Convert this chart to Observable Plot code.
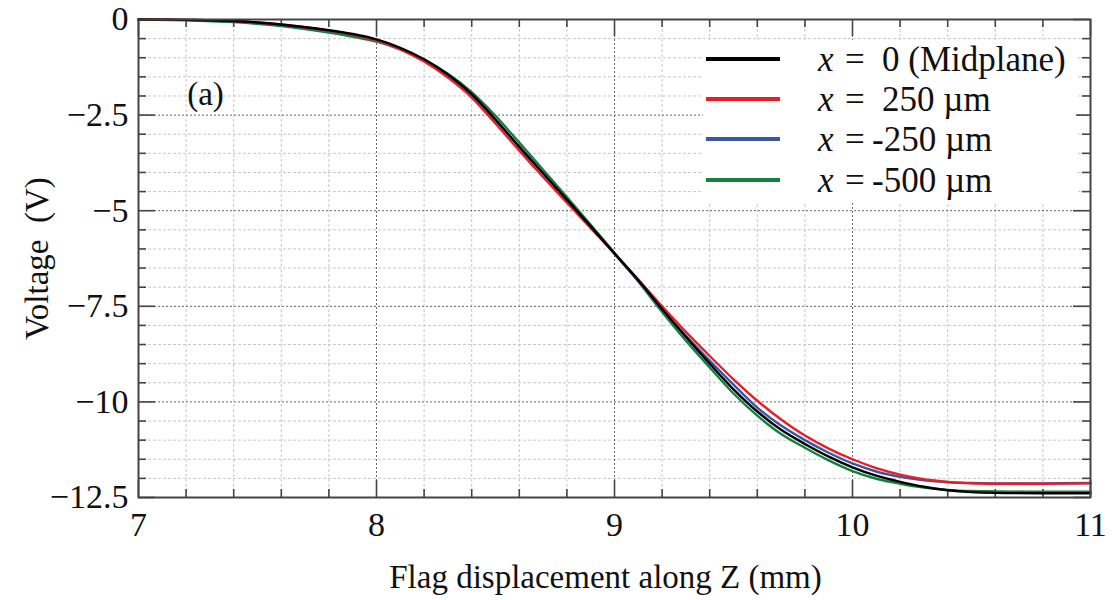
<!DOCTYPE html>
<html>
<head>
<meta charset="utf-8">
<script src="https://cdn.jsdelivr.net/npm/d3@7"></script>
<script src="https://cdn.jsdelivr.net/npm/@observablehq/plot@0.6"></script>
<style>
  html, body { margin: 0; padding: 0; background: #fff; }
</style>
</head>
<body>
<div id="chart"></div>
<script>
// Flag displacement along Z (mm)
const zMm = [7.0, 7.2, 7.4, 7.6, 7.8, 7.9, 8.0, 8.1, 8.2, 8.3, 8.4, 8.5, 8.6, 8.7, 8.8, 8.9, 9.0, 9.1, 9.2, 9.3, 9.4,
  9.5, 9.6, 9.7, 9.8, 9.9, 10.0, 10.1, 10.2, 10.3, 10.4, 10.5, 10.6, 10.8, 11.0];

// Voltage (V) for each position x
const vMid = [0, -0.01, -0.04, -0.13, -0.28, -0.38, -0.52, -0.74, -1.04, -1.44, -1.95, -2.62, -3.33, -4.02, -4.71, -5.41, -6.12, -6.82, -7.57, -8.30, -9.00,
  -9.67, -10.25, -10.73, -11.10, -11.43, -11.71, -11.93, -12.09, -12.22, -12.31, -12.36, -12.38, -12.39, -12.39];
const vP250 = [0, -0.01, -0.04, -0.13, -0.29, -0.40, -0.55, -0.78, -1.10, -1.52, -2.04, -2.72, -3.43, -4.12, -4.79, -5.46, -6.12, -6.80, -7.50, -8.17, -8.80,
  -9.41, -9.97, -10.46, -10.88, -11.22, -11.50, -11.73, -11.90, -12.02, -12.09, -12.13, -12.14, -12.14, -12.13];
const vM250 = [0, -0.01, -0.05, -0.14, -0.30, -0.40, -0.54, -0.76, -1.06, -1.46, -1.97, -2.62, -3.33, -4.02, -4.72, -5.42, -6.13, -6.84, -7.58, -8.27, -8.92,
  -9.55, -10.15, -10.62, -11.00, -11.33, -11.61, -11.82, -11.96, -12.05, -12.10, -12.12, -12.13, -12.13, -12.12];
const vM500 = [0, -0.02, -0.07, -0.17, -0.34, -0.45, -0.58, -0.78, -1.05, -1.42, -1.90, -2.52, -3.22, -3.93, -4.64, -5.37, -6.10, -6.85, -7.65, -8.40, -9.10,
  -9.78, -10.36, -10.84, -11.20, -11.53, -11.81, -12.01, -12.14, -12.24, -12.30, -12.33, -12.34, -12.35, -12.35];

const seriesNames = ["x = 0 (Midplane)", "x = 250 µm", "x = -250 µm", "x = -500 µm"];
const legendValues = ["0 (Midplane)", "250 µm", "-250 µm", "-500 µm"];
const seriesValues = [vMid, vP250, vM250, vM500];
const seriesColors = ["#000000", "#ec1c24", "#3a56a5", "#13803f"];

const xTicks = [7, 8, 9, 10, 11];
const yTicks = [0, -2.5, -5, -7.5, -10, -12.5];

// build table (draw order: green, blue, red, black on top)
const drawOrder = [3, 2, 1, 0];
const table = [];
for (const i of drawOrder) {
  zMm.forEach((z, k) => table.push({z, v: seriesValues[i][k], series: seriesNames[i]}));
}

const W = 1114, H = 600;
const mL = 138, mR = 24, mT = 19, mB = 103;
const innerW = W - mL - mR, innerH = H - mT - mB;
const FONT = "'Liberation Serif', 'Times New Roman', serif";

const minorX = d3.range(7, 11.0001, 0.2).map(d => +d.toFixed(1));
const minorY = d3.range(-12.5, 0.0001, 0.5).map(d => +d.toFixed(1));
const majorGridX = [8, 9, 10];
const majorGridY = [-2.5, -5, -7.5, -10];
const minorGridX = minorX.filter(d => !xTicks.includes(d));
const minorGridY = minorY.filter(d => !yTicks.includes(d));

const gridMinor = {stroke: "#c8c8c8", strokeDasharray: "3,2", strokeWidth: 1};
const gridMajor = {stroke: "#666", strokeDasharray: "2,2", strokeWidth: 1};
const tickStyle = {stroke: "#444", strokeWidth: 1.6};
const majLen = 17, minLen = 8;

const svg = Plot.plot({
  width: W, height: H,
  marginLeft: mL, marginRight: mR, marginTop: mT, marginBottom: mB,
  style: {fontFamily: FONT, fontSize: "34px", color: "#111", background: "#fff"},
  x: {domain: [7, 11], ticks: xTicks, tickSize: 0, tickPadding: 14, label: null, tickFormat: d => String(d)},
  y: {domain: [-12.5, 0], ticks: yTicks, tickSize: 0, tickPadding: 10, label: null,
      tickFormat: d => d === 0 ? "0" : "\u2212" + Math.abs(d)},
  color: {domain: seriesNames, range: seriesColors},
  marks: [
    Plot.ruleX(minorGridX, {x: d => d, ...gridMinor}),
    Plot.ruleY(minorGridY, {y: d => d, ...gridMinor}),
    Plot.ruleX(majorGridX, {x: d => d, ...gridMajor}),
    Plot.ruleY(majorGridY, {y: d => d, ...gridMajor}),
    // inward ticks: bottom & top
    Plot.ruleX(xTicks, {x: d => d, insetTop: innerH - majLen, ...tickStyle}),
    Plot.ruleX(xTicks, {x: d => d, insetBottom: innerH - majLen, ...tickStyle}),
    Plot.ruleX(minorGridX, {x: d => d, insetTop: innerH - minLen, ...tickStyle}),
    Plot.ruleX(minorGridX, {x: d => d, insetBottom: innerH - minLen, ...tickStyle}),
    // inward ticks: left & right
    Plot.ruleY(yTicks, {y: d => d, insetRight: innerW - majLen, ...tickStyle}),
    Plot.ruleY(yTicks, {y: d => d, insetLeft: innerW - majLen, ...tickStyle}),
    Plot.ruleY(minorGridY, {y: d => d, insetRight: innerW - minLen, ...tickStyle}),
    Plot.ruleY(minorGridY, {y: d => d, insetLeft: innerW - minLen, ...tickStyle}),
    Plot.line(table, {x: "z", y: "v", z: "series", stroke: "series", strokeWidth: 2.4, curve: "catmull-rom"}),
    Plot.frame({stroke: "#444", strokeWidth: 2}),
    Plot.text(["(a)"], {frameAnchor: "top-left", textAnchor: "middle", lineAnchor: "middle", dx: 67, dy: 75, fontSize: 33, fill: "#111"}),
    Plot.text(["Flag displacement along Z (mm)"], {frameAnchor: "bottom", textAnchor: "middle", lineAnchor: "middle", dx: -9, dy: 80, fontSize: 33, fill: "#111"}),
    Plot.text(["Voltage\u00a0 (V)"], {frameAnchor: "left", textAnchor: "middle", lineAnchor: "middle", rotate: -90, dx: -101, fontSize: 33, fill: "#111"})
  ]
});

// legend overlay (inside plot, top-right)
const g = d3.select(svg).append("g").attr("class", "legend")
  .attr("font-family", FONT).attr("font-size", 35).attr("fill", "#111").attr("text-anchor", "start");
g.append("rect").attr("x", 703).attr("y", 40).attr("width", 373).attr("height", 162).attr("fill", "#fff");
const rowY = [59, 99, 139, 180];
seriesNames.forEach((name, i) => {
  const y = rowY[i];
  g.append("line").attr("x1", 706).attr("x2", 780).attr("y1", y).attr("y2", y)
    .attr("stroke", seriesColors[i]).attr("stroke-width", 4);
  g.append("text").attr("x", 818).attr("y", y).attr("dy", "0.33em").attr("text-anchor", "start").attr("font-style", "italic").text("x");
  g.append("text").attr("x", 845).attr("y", y).attr("dy", "0.33em").attr("text-anchor", "start").text("=");
  g.append("text").attr("x", legendValues[i].startsWith("-") ? 872 : 882).attr("y", y).attr("dy", "0.33em")
    .attr("text-anchor", "start").text(legendValues[i]);
});

// make sure every text uses the serif face
d3.select(svg).selectAll("text").style("font-family", FONT);

document.getElementById("chart").appendChild(svg);
</script>
</body>
</html>
